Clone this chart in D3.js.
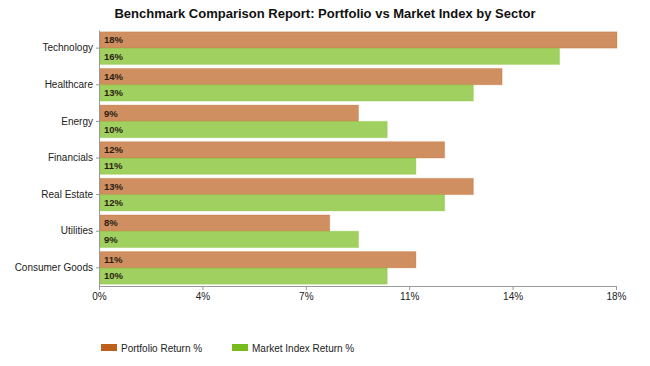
<!DOCTYPE html>
<html>
<head>
<meta charset="utf-8">
<script src="https://cdn.jsdelivr.net/npm/d3@7"></script>
<style>
  body { margin: 0; background: #fff; }
  svg { display: block; font-family: "Liberation Sans", Arial, sans-serif; }
  .axis path, .axis line { stroke: #999; }
  .axis text { fill: #222; }
</style>
</head>
<body>
<svg id="chart" width="650" height="366"></svg>
<script>
var sectors = ['Technology', 'Healthcare', 'Energy', 'Financials', 'Real Estate', 'Utilities', 'Consumer Goods'];
var portfolioReturns = [18, 14, 9, 12, 13, 8, 11];
var marketReturns = [16, 13, 10, 11, 12, 9, 10];
var seriesNames = ['Portfolio Return %', 'Market Index Return %'];
var seriesColors = ['#bc601c', '#77bc1c'];

var W = 650, H = 366;
var margin = { top: 30, right: 34, bottom: 80, left: 99 };

var svg = d3.select('#chart');

var rows = sectors.map(function(s, i) {
    return { sector: s, values: [portfolioReturns[i], marketReturns[i]] };
});

var x = d3.scaleLinear()
    .domain([0, d3.max(portfolioReturns.concat(marketReturns))])
    .range([margin.left, W - margin.right]);

var y = d3.scaleBand()
    .domain(sectors)
    .range([margin.top, H - margin.bottom])
    .paddingInner(0.11)
    .paddingOuter(0.05);

var ySub = d3.scaleBand()
    .domain([0, 1])
    .range([0, y.bandwidth()]);

// title
svg.append('text')
    .attr('x', W / 2)
    .attr('y', 18)
    .attr('text-anchor', 'middle')
    .style('font-weight', 'bold')
    .style('font-size', '13px')
    .attr('fill', '#111')
    .text('Benchmark Comparison Report: Portfolio vs Market Index by Sector');

// bars
var groups = svg.append('g').selectAll('g')
    .data(rows)
    .enter().append('g')
    .attr('transform', function(d) { return 'translate(0,' + y(d.sector) + ')'; });

groups.selectAll('rect')
    .data(function(d) { return d.values; })
    .enter().append('rect')
    .attr('x', x(0) + 1)
    .attr('y', function(d, i) { return ySub(i); })
    .attr('width', function(d) { return x(d) - x(0); })
    .attr('height', ySub.bandwidth())
    .attr('fill', function(d, i) { return seriesColors[i]; })
    .attr('fill-opacity', 0.7)
    .attr('stroke', function(d, i) { return seriesColors[i]; })
    .attr('stroke-opacity', 0.25);

groups.selectAll('text')
    .data(function(d) { return d.values; })
    .enter().append('text')
    .attr('x', x(0) + 5)
    .attr('y', function(d, i) { return ySub(i) + ySub.bandwidth() / 2; })
    .attr('dy', '0.35em')
    .style('font-size', '9.5px')
    .style('font-weight', 'bold')
    .attr('fill', '#2a1e14')
    .text(function(d) { return d + '%'; });

// axes
var xTicks = d3.range(6).map(function(i) { return x.domain()[1] * i / 5; });
svg.append('g')
    .attr('class', 'axis')
    .attr('transform', 'translate(0,' + (H - margin.bottom) + ')')
    .call(d3.axisBottom(x).tickValues(xTicks).tickSize(4).tickSizeOuter(0)
        .tickFormat(function(d) { return Math.round(d) + '%'; }))
    .selectAll('text')
    .style('font-size', '10px');

svg.append('g')
    .attr('class', 'axis')
    .attr('transform', 'translate(' + x(0) + ',0)')
    .call(d3.axisLeft(y).tickSize(3).tickSizeOuter(0))
    .selectAll('text')
    .style('font-size', '10px');

// legend
var legend = svg.append('g')
    .attr('transform', 'translate(101,344)');

var items = legend.selectAll('g')
    .data(seriesNames)
    .enter().append('g')
    .attr('transform', function(d, i) { return 'translate(' + (i * 131) + ',0)'; });

items.append('rect')
    .attr('width', 16)
    .attr('height', 7)
    .attr('fill', function(d, i) { return seriesColors[i]; });

items.append('text')
    .attr('x', 20)
    .attr('y', 4)
    .attr('dy', '0.35em')
    .style('font-size', '10px')
    .attr('fill', '#222')
    .text(function(d) { return d; });
</script>
</body>
</html>
